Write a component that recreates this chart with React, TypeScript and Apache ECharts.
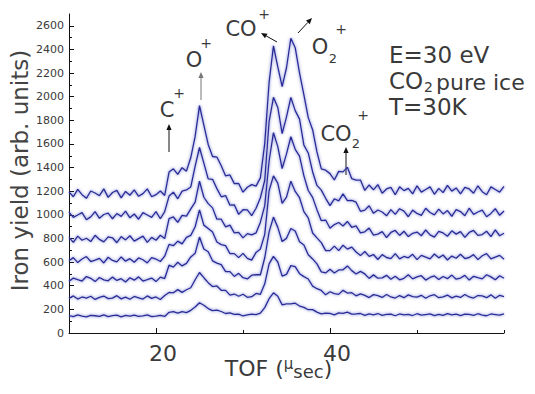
import React, { useEffect, useRef } from "react";
import * as echarts from "echarts";

// time of flight grid (µs)
const tof = [
  10, 10.5, 11, 11.5, 12, 12.5, 13, 13.5, 14, 14.5, 15, 15.5, 16, 16.5, 17, 17.5, 18, 18.5, 19, 19.5,
  20, 20.5, 21, 21.5, 22, 22.5, 23, 23.5, 24, 24.5, 25, 25.5, 26, 26.5, 27, 27.5, 28, 28.5, 29, 29.5,
  30, 30.5, 31, 31.5, 32, 32.5, 33, 33.5, 34, 34.5, 35, 35.5, 36, 36.5, 37, 37.5, 38, 38.5, 39, 39.5,
  40, 40.5, 41, 41.5, 42, 42.5, 43, 43.5, 44, 44.5, 45, 45.5, 46, 46.5, 47, 47.5, 48, 48.5, 49, 49.5,
  50, 50.5, 51, 51.5, 52, 52.5, 53, 53.5, 54, 54.5, 55, 55.5, 56, 56.5, 57, 57.5, 58, 58.5, 59, 59.5,
  60,
];

const trace1 = [
  148, 139, 153, 143, 136, 150, 146, 141, 154, 138, 147, 151, 137, 149, 142, 152, 140, 145, 154, 139,
  143, 150, 140, 175, 181, 169, 181, 173, 192, 220, 256, 235, 207, 190, 194, 182, 165, 171, 158, 160,
  144, 154, 159, 156, 168, 215, 290, 340, 311, 238, 247, 246, 252, 228, 217, 197, 198, 177, 162, 168,
  166, 154, 170, 166, 176, 159, 161, 165, 149, 162, 154, 165, 149, 157, 160, 146, 161, 154, 158, 148,
  163, 151, 156, 161, 147, 158, 150, 164, 153, 159, 148, 160, 157, 149, 163, 152, 146, 161, 156, 151,
  162,
];
const trace2 = [
  293, 314, 287, 305, 296, 311, 284, 302, 313, 291, 295, 316, 289, 304, 286, 309, 298, 287, 314, 293,
  305, 284, 317, 343, 340, 367, 344, 366, 383, 451, 512, 468, 426, 393, 398, 362, 361, 321, 330, 311,
  328, 302, 307, 335, 327, 416, 585, 648, 601, 481, 496, 570, 562, 502, 477, 457, 397, 375, 360, 323,
  349, 333, 327, 361, 338, 341, 315, 331, 318, 300, 325, 316, 301, 326, 305, 296, 317, 299, 323, 308,
  303, 319, 294, 315, 324, 299, 306, 321, 297, 312, 301, 326, 305, 296, 317, 314, 299, 323, 294, 319,
  308,
];
const trace3 = [
  437, 465, 452, 440, 478, 463, 435, 470, 450, 442, 473, 445, 460, 432, 468, 447, 475, 440, 452, 465,
  435, 473, 461, 574, 558, 599, 568, 589, 644, 674, 812, 711, 688, 611, 591, 579, 519, 519, 479, 505,
  468, 458, 489, 493, 493, 637, 856, 981, 894, 775, 801, 885, 863, 772, 745, 662, 627, 585, 517, 508,
  539, 508, 534, 535, 568, 528, 499, 522, 500, 462, 492, 464, 467, 488, 455, 480, 450, 463, 493, 458,
  475, 485, 448, 470, 483, 453, 478, 460, 490, 455, 465, 488, 448, 480, 468, 458, 493, 475, 450, 485,
  463,
];
const trace4 = [
  611, 638, 596, 626, 647, 605, 617, 632, 593, 641, 614, 602, 644, 608, 629, 599, 635, 620, 593, 638,
  626, 605, 650, 750, 739, 778, 754, 809, 826, 899, 1042, 913, 885, 854, 770, 748, 740, 671, 672, 638,
  674, 632, 617, 682, 711, 835, 1204, 1330, 1268, 1097, 1150, 1285, 1198, 1145, 1027, 974, 846, 805, 765, 697,
  697, 735, 697, 743, 710, 727, 686, 655, 690, 649, 664, 622, 663, 639, 630, 672, 627, 648, 636, 666,
  621, 657, 642, 627, 669, 636, 660, 618, 651, 633, 666, 630, 639, 663, 621, 654, 672, 627, 642, 657,
  624,
];
const trace5 = [
  809, 767, 820, 785, 802, 774, 827, 792, 771, 813, 806, 764, 816, 788, 823, 778, 799, 820, 767, 809,
  785, 827, 799, 968, 982, 936, 996, 989, 1050, 1107, 1285, 1149, 1095, 1059, 963, 963, 898, 913, 848, 851,
  805, 841, 830, 847, 938, 1078, 1456, 1696, 1577, 1391, 1516, 1661, 1555, 1497, 1330, 1206, 1148, 1044, 951, 956,
  886, 918, 935, 906, 944, 895, 906, 848, 856, 888, 829, 837, 858, 808, 851, 868, 826, 861, 816, 844,
  854, 823, 872, 830, 812, 861, 847, 819, 865, 837, 858, 809, 851, 868, 826, 833, 861, 816, 872, 823,
  844,
];
const trace6 = [
  1023, 979, 999, 1019, 959, 983, 1027, 971, 1003, 1015, 967, 1011, 987, 1031, 975, 1007, 963, 1019, 999, 979,
  1027, 967, 1027, 1159, 1192, 1136, 1201, 1211, 1236, 1413, 1570, 1438, 1304, 1301, 1222, 1153, 1163, 1082, 1085, 1004,
  1043, 1042, 994, 1056, 1145, 1293, 1790, 1995, 1909, 1688, 1830, 1994, 1882, 1810, 1590, 1524, 1365, 1249, 1209, 1140,
  1078, 1136, 1118, 1177, 1120, 1122, 1107, 1030, 1040, 1077, 1013, 1041, 1024, 992, 1044, 1004, 1052, 1032, 984, 1040,
  1012, 996, 1056, 1020, 1000, 1048, 1008, 1036, 988, 1044, 1028, 992, 1056, 1004, 1024, 1040, 984, 1012, 1052, 996,
  1032,
];
const trace7 = [
  1194, 1153, 1216, 1171, 1140, 1202, 1185, 1162, 1220, 1148, 1189, 1207, 1144, 1198, 1166, 1211, 1157, 1180, 1220, 1153,
  1171, 1202, 1164, 1362, 1390, 1342, 1399, 1370, 1485, 1664, 1925, 1760, 1596, 1494, 1489, 1415, 1329, 1338, 1264, 1266,
  1192, 1234, 1256, 1243, 1313, 1605, 2120, 2430, 2252, 2085, 2245, 2495, 2415, 2200, 2015, 1823, 1721, 1533, 1389, 1378,
  1349, 1295, 1368, 1364, 1402, 1306, 1294, 1294, 1207, 1253, 1211, 1256, 1183, 1219, 1232, 1170, 1237, 1205, 1224, 1178,
  1246, 1192, 1215, 1237, 1174, 1224, 1188, 1250, 1201, 1228, 1178, 1232, 1219, 1183, 1246, 1196, 1170, 1237, 1215, 1192,
  1241,
];

const traces = [trace1, trace2, trace3, trace4, trace5, trace6, trace7];

const xMajorTicks = [20, 40];
const xMinorTicks = [30, 50, 60];
const yMajorTicks = [0, 200, 400, 600, 800, 1000, 1200, 1400, 1600, 1800, 2000, 2200, 2400, 2600];
const yMinorTicks = [100, 300, 500, 700, 900, 1100, 1300, 1500, 1700, 1900, 2100, 2300, 2500];

const FONT = "DejaVu Sans";
const TXT = "#3a3a3a";

function arrow(x1: number, y1: number, x2: number, y2: number, color = "#111") {
  const dx = x2 - x1;
  const dy = y2 - y1;
  const len = Math.sqrt(dx * dx + dy * dy);
  const ux = dx / len;
  const uy = dy / len;
  const hl = 6;
  const hw = 2.6;
  const bx = x2 - ux * hl;
  const by = y2 - uy * hl;
  return [
    {
      type: "line",
      shape: { x1, y1, x2: bx, y2: by },
      style: { stroke: color, lineWidth: 1 },
      silent: true,
    },
    {
      type: "polygon",
      shape: {
        points: [
          [x2, y2],
          [bx - uy * hw, by + ux * hw],
          [bx + uy * hw, by - ux * hw],
        ],
      },
      style: { fill: color },
      silent: true,
    },
  ];
}

function txt(x: number, y: number, text: string, size: number, align = "center") {
  return {
    type: "text",
    x,
    y,
    silent: true,
    style: {
      text,
      fontSize: size,
      lineHeight: size,
      fontFamily: FONT,
      fill: TXT,
      align,
      verticalAlign: "middle",
    },
  };
}

export default function App() {
  const ref = useRef<HTMLDivElement>(null);
  useEffect(() => {
    document.body.style.margin = "0";
    const chart = echarts.init(ref.current!, undefined, { renderer: "svg" });
    const series = traces.map((t, k) => ({
      type: "line",
      name: "trace" + (k + 1),
      xAxisIndex: 0,
      yAxisIndex: 0,
      data: tof.map((x, i) => [x, t[i]]),
      showSymbol: false,
      symbol: "none",
      lineStyle: {
        color: "#2a2c96",
        width: 1.3,
        shadowColor: "rgba(95,105,205,0.95)",
        shadowBlur: 3.5,
      },
      z: 3,
    }));

    const graphic: any[] = [
      // peak labels
      txt(167, 110, "C", 21),
      txt(179, 93, "+", 14),
      ...arrow(169, 152, 169, 124),
      txt(194, 60, "O", 21),
      txt(206, 43, "+", 14),
      ...arrow(201, 100, 201, 72, "#777"),
      txt(241, 29, "CO", 21),
      txt(264, 14, "+", 14),
      ...arrow(277, 42, 261, 33),
      txt(320, 47, "O", 21),
      txt(333, 58, "2", 13),
      txt(341, 29, "+", 14),
      ...arrow(298, 33, 312, 18),
      txt(336, 134, "CO", 21),
      txt(356, 143, "2", 13),
      txt(363, 115, "+", 14),
      ...arrow(346, 175, 346, 147),
      // conditions block
      txt(389, 55, "E=30 eV", 23, "left"),
      txt(389, 81, "CO", 23, "left"),
      txt(424, 87, "2", 14, "left"),
      txt(436, 82, "pure ice", 22, "left"),
      txt(389, 107, "T=30K", 23, "left"),
    ];

    chart.setOption({
      animation: false,
      backgroundColor: "#fff",
      textStyle: { fontFamily: FONT },
      grid: {
        left: 69,
        right: 31,
        top: 14,
        bottom: 61,
        containLabel: false,
        outerBoundsMode: "none",
      },
      xAxis: [
        {
          type: "value",
          position: "bottom",
          min: 10,
          max: 60,
          axisLine: { show: true, lineStyle: { color: "#111", width: 1 } },
          axisTick: { show: true, inside: true, length: 5, customValues: xMajorTicks, lineStyle: { color: "#111" } },
          axisLabel: {
            customValues: xMajorTicks,
            fontSize: 22,
            lineHeight: 22,
            color: TXT,
            fontFamily: FONT,
            margin: 9,
            padding: [0, 0, 0, 14],
          },
          splitLine: { show: false },
          name: "{a|TOF (}{m|μ}{s|sec}{a|)}",
          nameLocation: "middle",
          nameGap: 23,
          nameMoveOverlap: false,
          nameTextStyle: {
            color: TXT,
            fontFamily: FONT,
            padding: [0, 16, 0, 0],
            rich: {
              a: { fontSize: 22, fontFamily: FONT, color: TXT, lineHeight: 24 },
              m: { fontSize: 15, fontFamily: FONT, color: TXT, verticalAlign: "top", lineHeight: 15 },
              s: { fontSize: 18, fontFamily: FONT, color: TXT, verticalAlign: "bottom", lineHeight: 17 },
            },
          },
        },
        {
          type: "value",
          position: "bottom",
          min: 10,
          max: 60,
          axisLine: { show: false },
          axisTick: { show: true, inside: true, length: 3, customValues: xMinorTicks, lineStyle: { color: "#111" } },
          axisLabel: { show: false },
          splitLine: { show: false },
        },
      ],
      yAxis: [
        {
          type: "value",
          position: "left",
          min: 0,
          max: 2700,
          axisLine: { show: true, lineStyle: { color: "#111", width: 1 } },
          axisTick: { show: true, inside: true, length: 5, customValues: yMajorTicks, lineStyle: { color: "#111" } },
          axisLabel: {
            customValues: yMajorTicks,
            formatter: (v: number) => String(v),
            fontSize: 11,
            color: TXT,
            fontFamily: FONT,
            margin: 5,
          },
          splitLine: { show: false },
          name: "Iron yield (arb. units)",
          nameLocation: "middle",
          nameGap: 38,
          nameRotate: 90,
          nameMoveOverlap: false,
          nameTextStyle: { fontSize: 23, color: "#444", fontFamily: FONT, padding: [0, 0, 0, 6] },
        },
        {
          type: "value",
          position: "left",
          min: 0,
          max: 2700,
          axisLine: { show: false },
          axisTick: { show: true, inside: true, length: 3, customValues: yMinorTicks, lineStyle: { color: "#111" } },
          axisLabel: { show: false },
          splitLine: { show: false },
        },
      ],
      series,
      graphic,
    });
    return () => chart.dispose();
  }, []);
  return <div ref={ref} style={{ width: 535, height: 394 }} />;
}
